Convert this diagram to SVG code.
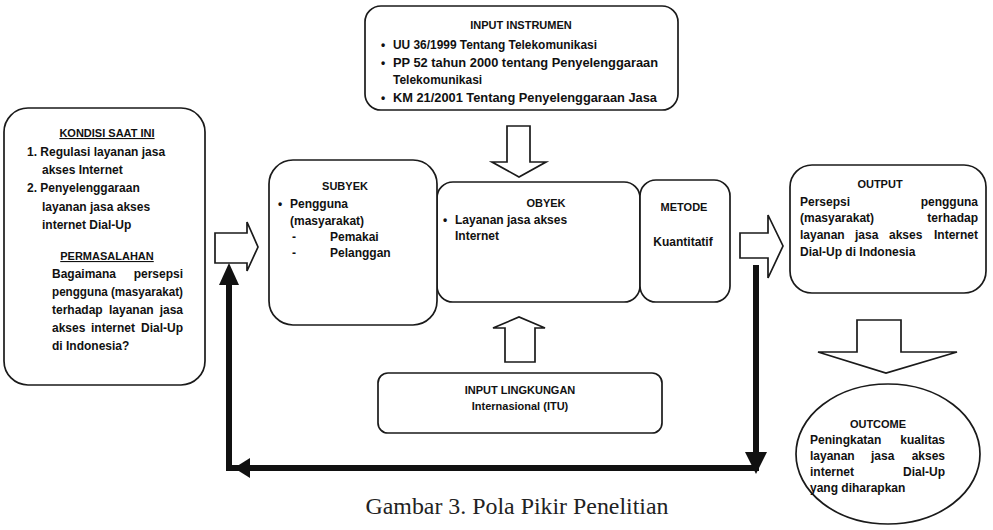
<svg xmlns="http://www.w3.org/2000/svg" width="993" height="530" viewBox="0 0 993 530">
<style>
.box{fill:#fff;stroke:#1a1a1a;stroke-width:1.7}
.blk{fill:#fff;stroke:#1a1a1a;stroke-width:1.7;stroke-linejoin:miter}
.t{font-family:"Liberation Sans",Arial,sans-serif;font-size:12px;font-weight:bold;fill:#111}
.h{font-size:11px}
.m{text-anchor:middle}
.e{text-anchor:end}
.u{text-decoration:underline}
.fb{fill:none;stroke:#111;stroke-width:6;stroke-linejoin:miter}
.ah{fill:#111}
.cap{font-family:"Liberation Serif","Times New Roman",serif;font-size:23px;fill:#222}
</style>
<rect width="993" height="530" fill="#fff"/>

<g id="kondisi">
<rect class="box" x="4" y="108" width="201" height="277" rx="24"/>
<text class="t h m u" x="107" y="137">KONDISI SAAT INI</text>
<text class="t" x="27" y="156">1. Regulasi layanan jasa</text>
<text class="t" x="42" y="174">akses Internet</text>
<text class="t" x="27" y="192">2. Penyelenggaraan</text>
<text class="t" x="42" y="211">layanan jasa akses</text>
<text class="t" x="42" y="229">internet Dial-Up</text>
<text class="t h m u" x="107" y="260">PERMASALAHAN</text>
<text class="t" y="278"><tspan x="52">Bagaimana</tspan><tspan x="183" text-anchor="end">persepsi</tspan></text>
<text class="t" x="52" y="296" textLength="131" lengthAdjust="spacingAndGlyphs">pengguna (masyarakat)</text>
<text class="t" y="314"><tspan x="52">terhadap</tspan><tspan x="109">layanan</tspan><tspan x="183" text-anchor="end">jasa</tspan></text>
<text class="t" y="332"><tspan x="52">akses</tspan><tspan x="91">internet</tspan><tspan x="183" text-anchor="end">Dial-Up</tspan></text>
<text class="t" x="52" y="350">di Indonesia?</text>
</g>

<g id="input-instrumen">
<rect class="box" x="365" y="6" width="313" height="104" rx="16"/>
<text class="t h m" x="521" y="29">INPUT INSTRUMEN</text>
<text class="t" x="381" y="49">•</text>
<text class="t" x="393" y="49" textLength="204" lengthAdjust="spacingAndGlyphs">UU 36/1999 Tentang Telekomunikasi</text>
<text class="t" x="381" y="67">•</text>
<text class="t" x="393" y="67" textLength="265" lengthAdjust="spacingAndGlyphs">PP 52 tahun 2000 tentang Penyelenggaraan</text>
<text class="t" x="393" y="84">Telekomunikasi</text>
<text class="t" x="381" y="102">•</text>
<text class="t" x="393" y="102" textLength="264" lengthAdjust="spacingAndGlyphs">KM 21/2001 Tentang Penyelenggaraan Jasa</text>
</g>

<g id="obyek">
<rect class="box" x="437" y="182" width="203" height="120" rx="16"/>
<text class="t h m" x="546" y="207">OBYEK</text>
<text class="t" x="443" y="224">•</text>
<text class="t" x="455" y="224">Layanan jasa akses</text>
<text class="t" x="455" y="240">Internet</text>
</g>

<g id="metode">
<rect class="box" x="640" y="180" width="90" height="122" rx="16"/>
<text class="t h m" x="684" y="211">METODE</text>
<text class="t m" x="683" y="246">Kuantitatif</text>
</g>

<g id="subyek">
<rect class="box" x="269" y="160" width="168" height="165" rx="24"/>
<text class="t h m" x="345" y="190">SUBYEK</text>
<text class="t" x="278" y="208">•</text>
<text class="t" x="290" y="208">Pengguna</text>
<text class="t" x="290" y="225">(masyarakat)</text>
<text class="t" x="292" y="241">-</text>
<text class="t" x="330" y="241">Pemakai</text>
<text class="t" x="292" y="257">-</text>
<text class="t" x="330" y="257">Pelanggan</text>
</g>

<g id="output">
<rect class="box" x="790" y="165" width="196" height="128" rx="22"/>
<text class="t h m" x="880" y="188">OUTPUT</text>
<text class="t" y="206"><tspan x="800">Persepsi</tspan><tspan x="978" text-anchor="end">pengguna</tspan></text>
<text class="t" y="222"><tspan x="800">(masyarakat)</tspan><tspan x="978" text-anchor="end">terhadap</tspan></text>
<text class="t" y="239"><tspan x="800">layanan</tspan><tspan x="855">jasa</tspan><tspan x="889">akses</tspan><tspan x="978" text-anchor="end">Internet</tspan></text>
<text class="t" x="800" y="256">Dial-Up di Indonesia</text>
</g>

<g id="input-lingkungan">
<rect class="box" x="378" y="373" width="284" height="60" rx="10"/>
<text class="t h m" x="520" y="394">INPUT LINGKUNGAN</text>
<text class="t h m" x="520" y="410">Internasional (ITU)</text>
</g>

<g id="outcome">
<ellipse class="box" cx="888" cy="454" rx="92" ry="70"/>
<text class="t h m" x="878" y="428">OUTCOME</text>
<text class="t" y="444"><tspan x="810">Peningkatan</tspan><tspan x="945" text-anchor="end">kualitas</tspan></text>
<text class="t" y="460"><tspan x="810">layanan</tspan><tspan x="871">jasa</tspan><tspan x="945" text-anchor="end">akses</tspan></text>
<text class="t" y="476"><tspan x="810">internet</tspan><tspan x="945" text-anchor="end">Dial-Up</tspan></text>
<text class="t" x="810" y="492">yang diharapkan</text>
</g>

<g id="connectors">
<polygon class="blk" points="215,233 247,233 247,222 258,247 247,271 247,263 215,263"/>
<polygon class="blk" points="507,126 530,126 530,162 546,162 519,177 492,162 507,162"/>
<polygon class="blk" points="505,362 535,362 535,328 545,328 519,317 493,328 505,328"/>
<polygon class="blk" points="740,233 768,233 768,215 783,246 768,278 768,258 740,258"/>
<polygon class="blk" points="857,320 901,320 901,352 957,352 886,373 818,352 857,352"/>
<path class="fb" d="M756,265 V468 H229 V283"/>
<polygon class="ah" points="219,285 239,285 229,263"/>
<polygon class="ah" points="250,458 250,478 234,468"/>
<polygon class="ah" points="745,452 767,452 756,474"/>
</g>

<text class="cap m" x="517" y="514" textLength="303" lengthAdjust="spacingAndGlyphs">Gambar 3. Pola Pikir Penelitian</text>
</svg>
